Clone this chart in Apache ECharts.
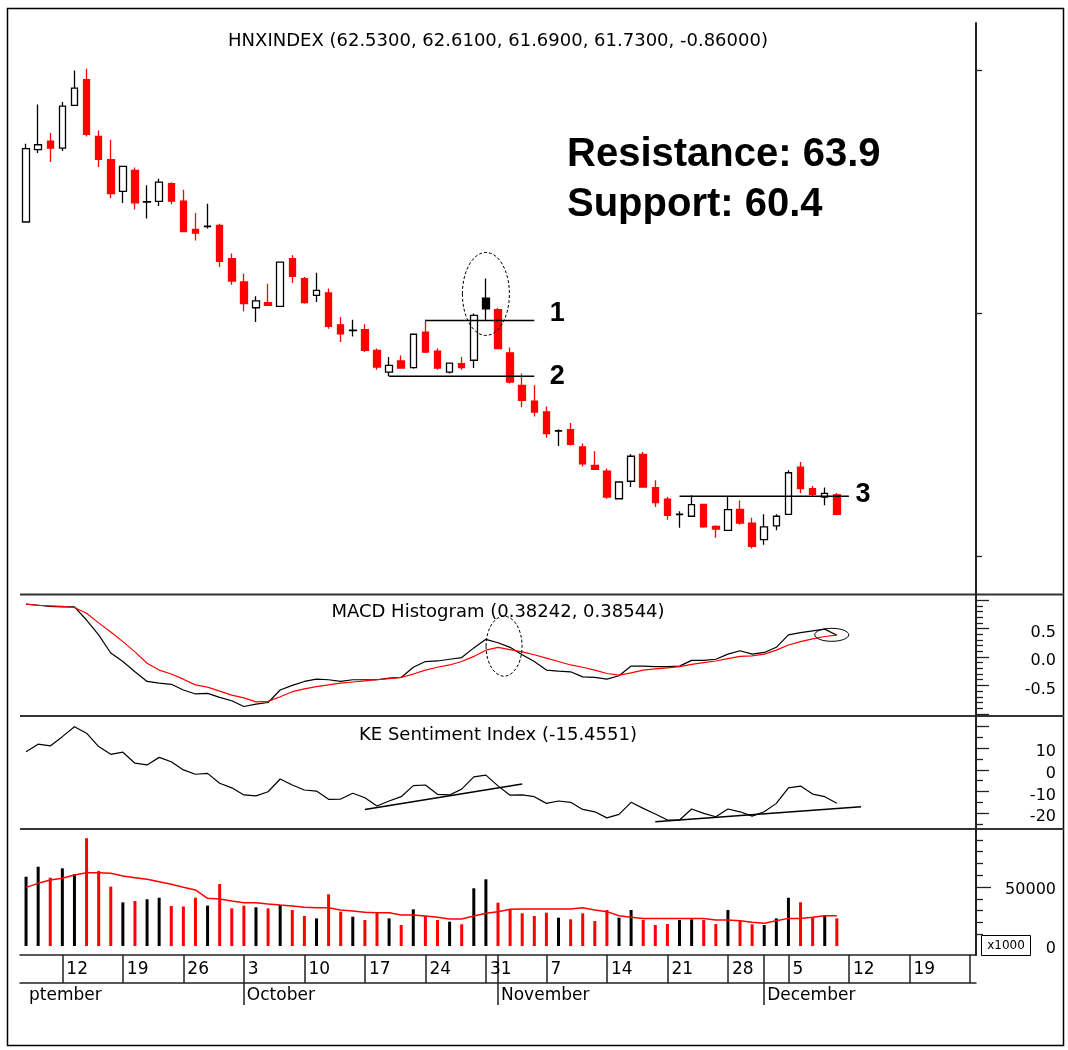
<!DOCTYPE html>
<html><head><meta charset="utf-8">
<script src="https://cdn.jsdelivr.net/npm/echarts@6/dist/echarts.min.js"></script>
<style>html,body{margin:0;padding:0;background:#fff}#c{width:1068px;height:1050px}</style>
</head><body><div id="c"></div>
<script>
// ---------- categories (trading days) ----------
const dates = [
'2011-09-07','2011-09-08','2011-09-09','2011-09-12','2011-09-13','2011-09-14','2011-09-15','2011-09-16','2011-09-19','2011-09-20','2011-09-21','2011-09-22','2011-09-23','2011-09-26','2011-09-27','2011-09-28','2011-09-29','2011-09-30',
'2011-10-03','2011-10-04','2011-10-05','2011-10-06','2011-10-07','2011-10-10','2011-10-11','2011-10-12','2011-10-13','2011-10-14','2011-10-17','2011-10-18','2011-10-19','2011-10-20','2011-10-21','2011-10-24','2011-10-25','2011-10-26','2011-10-27','2011-10-28','2011-10-31',
'2011-11-01','2011-11-02','2011-11-03','2011-11-04','2011-11-07','2011-11-08','2011-11-09','2011-11-10','2011-11-11','2011-11-14','2011-11-15','2011-11-16','2011-11-17','2011-11-18','2011-11-21','2011-11-22','2011-11-23','2011-11-24','2011-11-25','2011-11-28','2011-11-29','2011-11-30',
'2011-12-01','2011-12-02','2011-12-05','2011-12-06','2011-12-07','2011-12-08','2011-12-09','2011-12-12','2011-12-13','2011-12-14','2011-12-15','2011-12-16','2011-12-19','2011-12-20','2011-12-21','2011-12-22','2011-12-23','2011-12-26'];
const monthLabels = {'09':'ptember','10':'October','11':'November','12':'December'};

// ---------- HNXINDEX OHLC ----------
const opens  = [73.76,76.74,77.09,76.80,78.56,79.62,77.28,76.33,75.02,75.88,74.58,74.61,75.34,74.62,73.46,73.57,73.62,72.25,71.29,70.23,70.44,70.29,72.25,71.43,70.74,70.84,69.53,69.29,69.33,68.48,67.58,68.04,67.77,69.23,68.44,67.58,67.93,68.07,70.63,70.15,68.37,67.04,66.39,65.94,65.15,65.21,64.50,63.74,63.51,62.37,63.09,64.20,62.83,62.35,61.72,61.65,62.14,61.23,61.07,61.93,61.37,60.69,61.25,61.73,63.67,62.79,62.44,62.53];
const closes = [76.78,76.94,76.80,78.53,79.27,77.37,76.34,74.93,76.05,74.55,74.60,75.40,74.62,73.37,73.30,73.59,72.14,71.33,70.40,70.51,70.33,72.11,71.52,70.44,70.95,69.47,69.16,69.31,68.48,67.79,67.86,67.75,69.14,68.41,67.75,67.95,67.77,69.92,70.19,68.55,67.17,66.42,65.94,65.05,65.17,64.61,63.81,63.58,62.44,63.06,64.12,62.85,62.21,61.69,61.74,62.13,61.21,61.12,61.92,61.37,60.41,61.21,61.65,63.44,62.79,62.55,62.59,61.73];
const lows   = [73.76,76.60,76.23,76.68,78.56,77.28,76.02,74.74,74.54,74.27,73.90,74.42,74.49,73.37,73.00,73.49,71.91,71.18,70.09,69.64,70.33,70.29,71.25,70.40,70.47,69.37,68.82,69.05,68.41,67.68,67.41,67.72,67.72,68.37,67.68,67.52,67.68,67.75,69.71,68.55,67.11,66.14,65.76,64.88,64.54,64.56,63.70,63.58,62.37,62.37,62.85,62.85,62.03,61.51,61.18,61.65,61.18,60.77,61.07,61.30,60.32,60.48,61.07,61.73,62.60,62.44,62.10,61.69];
const highs  = [76.98,78.60,77.42,78.70,80.00,80.07,77.53,77.15,76.05,76.00,75.27,75.54,75.40,75.09,74.13,74.51,73.69,72.46,71.63,70.70,71.22,72.11,72.39,71.50,71.67,71.02,69.85,69.74,69.55,68.55,68.20,68.27,69.16,69.74,68.55,67.95,68.20,69.99,71.43,70.22,68.59,67.52,67.04,66.17,65.22,65.49,64.64,64.32,63.61,63.06,64.20,64.29,63.13,62.44,61.86,62.51,62.14,61.28,62.44,62.30,61.59,61.73,61.73,63.54,63.88,62.89,62.83,62.61];

// ---------- volume (x1000) ----------
const volumes = [58700,67200,57900,65800,60800,91300,63600,50300,37000,38100,39600,40900,33900,33500,40900,34200,52500,31900,34200,32800,31900,34700,30500,25400,23400,43800,29100,24800,22000,28200,23400,17800,31100,25400,22000,20600,18400,48900,56500,36700,31400,27700,25400,28200,24000,22600,27700,21200,30500,24000,30500,22000,17800,18600,22000,22600,22000,18600,30500,22000,18400,17800,23400,40900,37000,24300,25400,23400];
const volumeAvg = [49700,53100,55900,57400,60200,62100,62100,61600,59300,57900,56500,54500,52300,49700,47500,40400,39800,38100,36700,36700,35600,34700,33900,32800,32500,32500,30500,29700,28600,28200,28200,26300,26300,25400,24300,22900,22900,25400,27700,29100,31100,31400,31400,31400,31400,31400,32500,30500,29100,25700,24300,23400,23400,23400,23400,23400,23400,22000,22000,21400,20100,19200,21400,23400,23400,24300,25700,25700];

// ---------- MACD ----------
const macdLine = [0.93,0.91,0.89,0.88,0.88,0.65,0.39,0.07,-0.08,-0.26,-0.43,-0.46,-0.48,-0.58,-0.65,-0.64,-0.71,-0.77,-0.87,-0.83,-0.80,-0.58,-0.50,-0.43,-0.39,-0.40,-0.43,-0.40,-0.40,-0.40,-0.37,-0.36,-0.18,-0.08,-0.07,-0.04,-0.01,0.16,0.31,0.25,0.17,0.04,-0.08,-0.23,-0.25,-0.26,-0.35,-0.36,-0.39,-0.33,-0.16,-0.16,-0.17,-0.17,-0.16,-0.06,-0.06,-0.04,0.05,0.11,0.05,0.08,0.17,0.39,0.43,0.46,0.49,0.38242];
const signalLine = [0.93,0.91,0.90,0.89,0.87,0.77,0.60,0.44,0.27,0.09,-0.11,-0.23,-0.30,-0.39,-0.49,-0.53,-0.60,-0.67,-0.72,-0.79,-0.78,-0.70,-0.61,-0.56,-0.52,-0.49,-0.46,-0.44,-0.42,-0.40,-0.38,-0.36,-0.30,-0.23,-0.18,-0.14,-0.08,0.01,0.12,0.17,0.13,0.09,0.04,-0.02,-0.08,-0.14,-0.18,-0.23,-0.29,-0.32,-0.28,-0.23,-0.21,-0.19,-0.17,-0.13,-0.10,-0.07,-0.03,0.01,0.02,0.05,0.12,0.21,0.27,0.32,0.36,0.38544];

// ---------- KE Sentiment Index ----------
const sentiment = [8.4,11.9,11.1,15.4,20.0,17.0,10.8,7.2,8.2,3.1,2.3,5.8,3.8,0.0,-2.0,-1.6,-6.2,-8.3,-11.6,-12.0,-10.1,-4.2,-7.0,-9.3,-9.8,-13.6,-13.5,-10.8,-12.9,-16.7,-14.4,-12.4,-7.3,-7.0,-11.3,-11.6,-8.9,-3.2,-2.4,-7.4,-11.7,-11.6,-12.4,-15.5,-14.4,-15.0,-18.3,-19.4,-22.2,-20.6,-15.0,-17.8,-20.4,-23.2,-23.2,-18.1,-20.1,-21.7,-18.1,-19.4,-21.4,-19.4,-15.5,-8.3,-7.5,-11.2,-12.4,-15.4551];

// ---------- annotation lines [categoryIndex, value] ----------
const line1 = [[33,69.71],[42,69.71]];
const line2 = [[30,67.41],[42,67.41]];
const line3 = [[54,62.47],[68,62.47]];
const sentLineA = [[28,-18.3],[41,-6.5]];
const sentLineB = [[52,-24.0],[69,-17.1]];

// ---------- axis ticks / labels ----------
const priceTicks = [60,70,80];
const macdMajor = [-1,-0.5,0,0.5,1];
const macdLabels = [-0.5,0,0.5];
const macdMinor = [-0.9,-0.8,-0.7,-0.6,-0.4,-0.3,-0.2,-0.1,0.1,0.2,0.3,0.4,0.6,0.7,0.8,0.9];
const sentMajor = [-20,-10,0,10,20];
const sentMinor = [-25,-15,-5,5,15];
const sentLabels = [-20,-10,0,10];
const volMajor = [50000];
const volMinor = [10000,20000,30000,40000,60000,70000,80000,90000];
const volLabels = [0,50000];

// ---------- derived styling ----------
const isUp = i => i === 0 ? closes[i] >= opens[i] : closes[i] >= closes[i-1];
const colorOf = i => isUp(i) ? '#000000' : '#ff0000';
const candleItems = opens.map((o,i) => {
  const c = colorOf(i);
  const fill = closes[i] >= o ? '#ffffff' : c;
  return {value:[o, closes[i], lows[i], highs[i]],
    itemStyle:{color:fill, color0:fill, borderColor:c, borderColor0:c, borderColorDoji:c}};
});
const isMonday = i => new Date(dates[i] + 'T00:00:00Z').getUTCDay() === 1;
const isMonthStart = i => i > 0 && dates[i].slice(5,7) !== dates[i-1].slice(5,7);

const FONT = 'DejaVu Sans';
const AX = '#222';
const L = 20, R = 92;

function hiddenX(grid){
  return {type:'category', gridIndex:grid, data:dates, boundaryGap:true,
    axisLine:{show:false}, axisTick:{show:false}, axisLabel:{show:false}, splitLine:{show:false}};
}
function yAx(grid, min, max, ticks, len, labels, fmt, showLine, lh){
  const lab = {show:!!labels, customValues:labels||[], formatter:fmt, align:'right', margin:80,
      fontFamily:FONT, fontSize:16, color:'#000'};
  if (lh) { lab.verticalAlign = 'top'; lab.lineHeight = lh; }
  return {type:'value', gridIndex:grid, position:'right', min:min, max:max,
    axisLine:{show:showLine, lineStyle:{color:AX, width:2}},
    axisTick:{show:ticks.length>0, customValues:ticks, length:len, lineStyle:{color:AX, width:1.3}},
    axisLabel:lab, splitLine:{show:false}};
}

const option = {
  animation:false,
  backgroundColor:'#ffffff',
  grid:[
    {left:L, right:R, top:23, height:571},
    {left:L, right:R, top:595, height:120},
    {left:L, right:R, top:717, height:111},
    {left:L, right:R, top:830, height:125}
  ],
  xAxis:[
    hiddenX(0), hiddenX(1), hiddenX(2),
    {type:'category', gridIndex:3, data:dates, boundaryGap:true, position:'bottom',
      axisLine:{show:true, onZero:false, lineStyle:{color:AX, width:1.5}},
      axisTick:{show:true, alignWithLabel:true, interval:(i)=>isMonday(i), length:28, lineStyle:{color:AX, width:1.5}},
      axisLabel:{show:true, interval:(i)=>isMonday(i) && i < dates.length-1, align:'left', padding:[0,0,0,4], margin:6,
        formatter:v=>String(parseInt(v.slice(8),10)), fontFamily:FONT, fontSize:17, color:'#000'},
      splitLine:{show:false}},
    {type:'category', gridIndex:3, data:dates, boundaryGap:true, position:'bottom', offset:28,
      axisLine:{show:true, onZero:false, lineStyle:{color:AX, width:1.5}},
      axisTick:{show:true, alignWithLabel:true, interval:(i)=>isMonthStart(i), length:22, lineStyle:{color:AX, width:1.5}},
      axisLabel:{show:true, interval:(i)=>i===0 || isMonthStart(i), align:'left', padding:[0,0,0,3], margin:4,
        formatter:v=>monthLabels[v.slice(5,7)], fontFamily:FONT, fontSize:17, color:'#000'},
      splitLine:{show:false}},
    {type:'category', gridIndex:3, data:dates, boundaryGap:true, position:'bottom',
      axisLine:{show:false, onZero:false},
      axisTick:{show:true, alignWithLabel:true, interval:(i)=>isMonthStart(i), length:28, lineStyle:{color:AX, width:1.5}},
      axisLabel:{show:false}, splitLine:{show:false}}
  ],
  yAxis:[
    yAx(0, 58.45, 81.95, priceTicks, 6, null, null, true, 0),
    yAx(1, -1.02, 1.09, macdMinor, 7, null, null, true, 0),
    yAx(1, -1.02, 1.09, macdMajor, 13, macdLabels, v=>(+v).toFixed(1), false, 8),
    yAx(2, -26.9, 24.5, sentMinor, 7, null, null, true, 0),
    yAx(2, -26.9, 24.5, sentMajor, 13, sentLabels, v=>String(v), false, 8),
    yAx(3, -7630, 98300, volMinor, 7, null, null, true, 0),
    yAx(3, -7630, 98300, volMajor, 15, volLabels, v=>String(v), false, 5)
  ],
  series:[
    {type:'candlestick', xAxisIndex:0, yAxisIndex:0, data:candleItems, barWidth:7,
      itemStyle:{borderWidth:1.3}, silent:true, z:2},
    {type:'line', xAxisIndex:0, yAxisIndex:0, data:line1, symbol:'none', lineStyle:{color:'#000', width:1.5}, silent:true, z:4},
    {type:'line', xAxisIndex:0, yAxisIndex:0, data:line2, symbol:'none', lineStyle:{color:'#000', width:1.5}, silent:true, z:4},
    {type:'line', xAxisIndex:0, yAxisIndex:0, data:line3, symbol:'none', lineStyle:{color:'#000', width:1.5}, silent:true, z:4},
    {type:'line', xAxisIndex:1, yAxisIndex:1, data:macdLine, symbol:'none', lineStyle:{color:'#000', width:1.2}, silent:true},
    {type:'line', xAxisIndex:1, yAxisIndex:1, data:signalLine, symbol:'none', lineStyle:{color:'#ff0000', width:1.2}, silent:true},
    {type:'line', xAxisIndex:2, yAxisIndex:3, data:sentiment, symbol:'none', lineStyle:{color:'#000', width:1.2}, silent:true},
    {type:'line', xAxisIndex:2, yAxisIndex:3, data:sentLineA, symbol:'none', lineStyle:{color:'#000', width:1.5}, silent:true},
    {type:'line', xAxisIndex:2, yAxisIndex:3, data:sentLineB, symbol:'none', lineStyle:{color:'#000', width:1.5}, silent:true},
    {type:'bar', xAxisIndex:3, yAxisIndex:5, data:volumes, barWidth:3,
      itemStyle:{color:(p)=>colorOf(p.dataIndex)}, silent:true},
    {type:'line', xAxisIndex:3, yAxisIndex:5, data:volumeAvg, symbol:'none', lineStyle:{color:'#ff0000', width:1.5}, silent:true, z:4}
  ],
  graphic:[
    {id:'frame', type:'rect', shape:{x:7.5, y:8.5, width:1056, height:1037}, style:{fill:'none', stroke:'#000', lineWidth:1.5}, silent:true},
    {id:'sep1', type:'line', shape:{x1:L, y1:594.5, x2:1064, y2:594.5}, style:{stroke:'#333', lineWidth:2}, silent:true},
    {id:'sep2', type:'line', shape:{x1:L, y1:716, x2:1064, y2:716}, style:{stroke:'#333', lineWidth:2}, silent:true},
    {id:'sep3', type:'line', shape:{x1:L, y1:829, x2:1064, y2:829}, style:{stroke:'#333', lineWidth:2}, silent:true},
    {id:'t1', type:'text', x:498, y:41, style:{text:'HNXINDEX (62.5300, 62.6100, 61.6900, 61.7300, -0.86000)', fill:'#000', font:'18px "DejaVu Sans"', textAlign:'center', textVerticalAlign:'middle'}, silent:true},
    {id:'t2', type:'text', x:498, y:612, style:{text:'MACD Histogram (0.38242, 0.38544)', fill:'#000', font:'18px "DejaVu Sans"', textAlign:'center', textVerticalAlign:'middle'}, silent:true},
    {id:'t3', type:'text', x:498, y:735, style:{text:'KE Sentiment Index (-15.4551)', fill:'#000', font:'18px "DejaVu Sans"', textAlign:'center', textVerticalAlign:'middle'}, silent:true},
    {id:'res', type:'text', x:567, y:155, style:{text:'Resistance: 63.9', fill:'#000', font:'bold 40px "Liberation Sans"', textAlign:'left', textVerticalAlign:'middle'}, silent:true},
    {id:'sup', type:'text', x:567, y:205, style:{text:'Support: 60.4', fill:'#000', font:'bold 40px "Liberation Sans"', textAlign:'left', textVerticalAlign:'middle'}, silent:true},
    {id:'kbox', type:'rect', shape:{x:981.5, y:935.5, width:49, height:20}, style:{fill:'#fff', stroke:'#000', lineWidth:1}, silent:true},
    {id:'ktxt', type:'text', x:1006, y:946, style:{text:'x1000', fill:'#000', font:'12px "DejaVu Sans"', textAlign:'center', textVerticalAlign:'middle'}, silent:true}
  ]
};

const chart = echarts.init(document.getElementById('c'), null, {renderer:'canvas'});
chart.setOption(option);

// annotations positioned from data coordinates
const px = (xi, yi, x, y) => chart.convertToPixel({xAxisIndex:xi, yAxisIndex:yi}, [x, y]);
const e1 = px(0, 0, 38, 70.80);
const m39 = px(1, 1, 39, 0.19), m40 = px(1, 1, 40, 0.19);
const e3 = px(1, 1, 66, 0.39);
const l1 = px(0, 0, line1[1][0], line1[1][1]);
const l2 = px(0, 0, line2[1][0], line2[1][1]);
const l3 = px(0, 0, line3[1][0], line3[1][1]);
const dashed = {fill:'none', stroke:'#000', lineWidth:1, lineDash:[3,2]};
const numFont = 'bold 27px "Liberation Sans"';
chart.setOption({graphic:[
  {id:'el1', type:'ellipse', shape:{cx:e1[0], cy:e1[1], rx:23.5, ry:41.5}, style:dashed, silent:true, z:10},
  {id:'el2', type:'ellipse', shape:{cx:(m39[0]+m40[0])/2, cy:m39[1], rx:18, ry:30}, style:dashed, silent:true, z:10},
  {id:'el3', type:'ellipse', shape:{cx:e3[0]+7, cy:e3[1], rx:17, ry:6.5}, style:{fill:'none', stroke:'#000', lineWidth:1}, silent:true, z:10},
  {id:'n1', type:'text', x:l1[0]+23, y:l1[1]-7, style:{text:'1', fill:'#000', font:numFont, textAlign:'center', textVerticalAlign:'middle'}, silent:true},
  {id:'n2', type:'text', x:l2[0]+23, y:l2[1], style:{text:'2', fill:'#000', font:numFont, textAlign:'center', textVerticalAlign:'middle'}, silent:true},
  {id:'n3', type:'text', x:l3[0]+14, y:l3[1]-2, style:{text:'3', fill:'#000', font:numFont, textAlign:'center', textVerticalAlign:'middle'}, silent:true}
]});
</script>
</body></html>
